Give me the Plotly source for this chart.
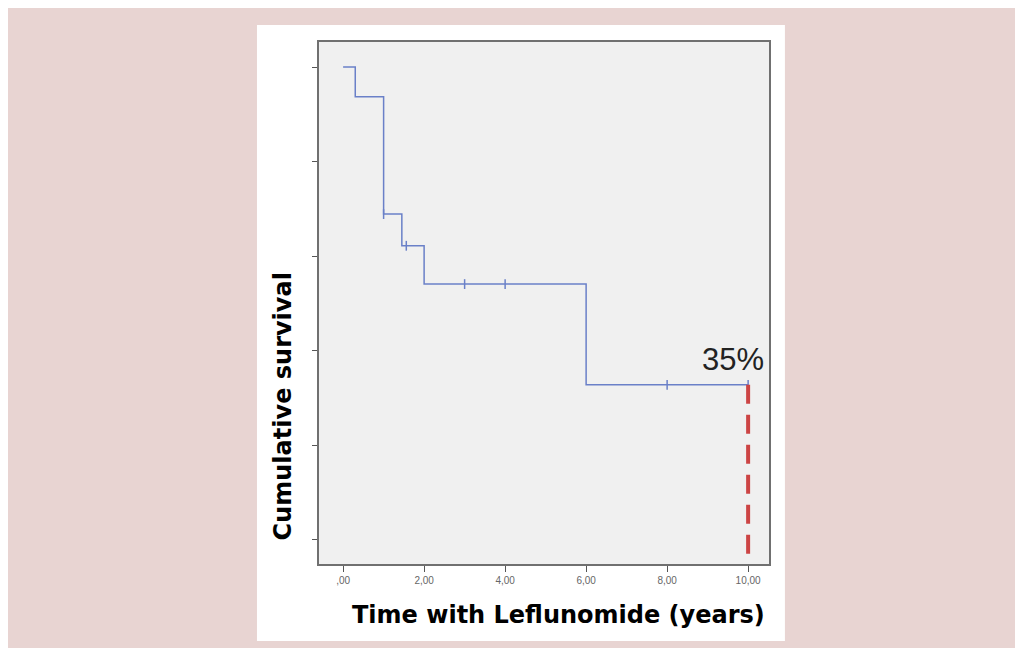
import plotly.graph_objects as go

# Kaplan-Meier step data
step_times = [0.0, 0.3, 1.0, 1.45, 2.0, 6.0, 10.0]
survival = [1.0, 0.937, 0.689, 0.622, 0.541, 0.328, 0.328]

# censored observations
censor_times = [1.0, 1.56, 3.0, 4.0, 8.0, 10.0]
censor_surv = [0.689, 0.622, 0.541, 0.541, 0.328, 0.328]

# 10-year marker line
marker_time = 10.0
marker_y = [0.328, -0.036]
marker_label = "35%"

x_tickvals = [0, 2, 4, 6, 8, 10]
x_ticktext = [",00", "2,00", "4,00", "6,00", "8,00", "10,00"]
y_tickvals = [0, 0.2, 0.4, 0.6, 0.8, 1.0]

x_title = "Time with Leflunomide (years)"
y_title = "Cumulative survival"

BLUE = "#6A80C8"

fig = go.Figure()

fig.add_trace(go.Scatter(
    x=step_times, y=survival, mode="lines", line_shape="hv",
    line=dict(color=BLUE, width=1.5), hoverinfo="skip", showlegend=False))

fig.add_trace(go.Scatter(
    x=censor_times, y=censor_surv, mode="markers",
    marker=dict(symbol="line-ns-open", size=7, color=BLUE, line=dict(color=BLUE, width=1.5)),
    showlegend=False))

fig.add_trace(go.Scatter(
    x=[marker_time, marker_time], y=marker_y, mode="lines",
    line=dict(color="#CC4444", width=4, dash="19px,11px"), showlegend=False))

fig.add_annotation(x=marker_time, y=marker_y[0], text=marker_label, showarrow=False,
                   xanchor="right", yanchor="bottom", xshift=18, yshift=6,
                   font=dict(family="Liberation Sans", size=31, color="#222222"))

# axis titles as annotations (not centred on the plot area in the original)
fig.add_annotation(xref="paper", yref="paper", x=0.532, y=-0.095,
                   xanchor="center", yanchor="middle",
                   text="<b>" + x_title + "</b>", showarrow=False,
                   font=dict(family="DejaVu Sans", size=24, color="#000000"))
fig.add_annotation(xref="paper", yref="paper", x=-0.077, y=0.303,
                   xanchor="center", yanchor="middle",
                   textangle=-90, text="<b>" + y_title + "</b>", showarrow=False,
                   font=dict(family="DejaVu Sans", size=24, color="#000000"))

# white panel and grey plot area
fig.add_shape(type="rect", xref="paper", yref="paper", x0=-0.135, x1=1.033, y0=-0.145, y1=1.0305,
              fillcolor="white", line=dict(width=0), layer="below")
fig.add_shape(type="rect", xref="paper", yref="paper", x0=0, x1=1, y0=0, y1=1,
              fillcolor="#F0F0F0", line=dict(color="#707070", width=2), layer="below")

fig.update_layout(
    width=1023, height=648,
    margin=dict(l=310, r=261, t=33, b=91),
    paper_bgcolor="#E8D4D2",
    plot_bgcolor="rgba(0,0,0,0)",
    showlegend=False,
    xaxis=dict(range=[-0.62, 10.54], tickvals=x_tickvals, ticktext=x_ticktext,
               ticks="outside", ticklen=6, tickcolor="#555555", showgrid=False, zeroline=False,
               tickfont=dict(family="Liberation Sans", size=10, color="#666666")),
    yaxis=dict(range=[-0.053, 1.055], tickvals=y_tickvals, showticklabels=False,
               ticks="outside", ticklen=5, tickcolor="#555555", showgrid=False, zeroline=False),
)

fig.write_html("out.html")
